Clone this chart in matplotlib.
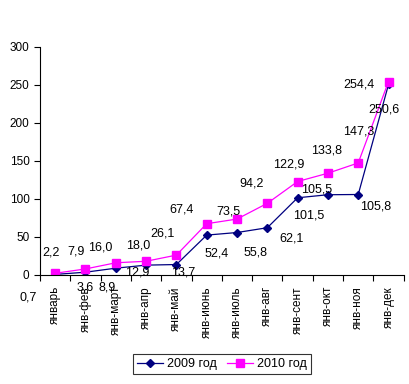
import matplotlib.pyplot as plt
import numpy as np

plt.rcParams["font.family"] = ["Liberation Sans", "DejaVu Sans"]

months = ["январь", "янв-фев", "янв-март", "янв-апр", "янв-май", "янв-июнь",
          "янв-июль", "янв-авг", "янв-сент", "янв-окт", "янв-ноя", "янв-дек"]
y2009 = [0.7, 3.6, 8.9, 12.9, 13.7, 52.4, 55.8, 62.1, 101.5, 105.5, 105.8, 250.6]
y2010 = [2.2, 7.9, 16.0, 18.0, 26.1, 67.4, 73.5, 94.2, 122.9, 133.8, 147.3, 254.4]

# смещения подписей в пикселях (как расставлены вручную в оригинале)
off2009 = [(-27, -23), (0, -15), (-9, -19), (-9, -7), (7, -8), (10, -18),
           (19, -20), (24, -11), (11, -18), (-11, 5), (17, -12), (-5, -25)]
off2010 = [(-4, 21), (-9, 17), (-16, 15), (-8, 16), (-14, 22), (-25, 14),
           (-9, 8), (-16, 20), (-9, 17), (-1, 23), (0, 31), (-30, -3)]

BLUE = "#000080"
PINK = "#FF00FF"

fig = plt.figure(figsize=(4.1, 3.84), dpi=100)
ax = fig.add_axes([0.0976, 0.284, 0.887, 0.594])

x = np.arange(len(months))
ax.plot(x, y2009, color=BLUE, lw=0.9, marker="D", ms=4.5, label="2009 год")
ax.plot(x, y2010, color=PINK, lw=0.9, marker="s", ms=5.5, label="2010 год")

for xi, v, (dx, dy) in zip(x, y2009, off2009):
    ax.annotate(f"{v:.1f}".replace(".", ","), (xi, v), xytext=(dx, dy),
                textcoords="offset pixels", ha="center", va="center", fontsize=9)
for xi, v, (dx, dy) in zip(x, y2010, off2010):
    ax.annotate(f"{v:.1f}".replace(".", ","), (xi, v), xytext=(dx, dy),
                textcoords="offset pixels", ha="center", va="center", fontsize=9)

ax.set_xlim(-0.5, 11.5)
ax.set_ylim(0, 300)
ax.set_yticks(range(0, 301, 50))
ax.set_xticks(x)
ax.set_xticklabels(months, rotation=90, fontsize=8.5)
ax.set_xticks(np.arange(-0.5, 12, 1), minor=True)
ax.tick_params(axis="x", which="major", length=0, pad=8)
ax.tick_params(axis="x", which="minor", length=4, direction="out", width=0.8)
ax.tick_params(axis="y", length=4, direction="out", width=0.8, labelsize=8.5)
ax.spines["top"].set_visible(False)
ax.spines["right"].set_visible(False)
for s in ("left", "bottom"):
    ax.spines[s].set_linewidth(0.8)

leg = fig.legend(loc="center", bbox_to_anchor=(222 / 410, 1 - 364 / 384), ncol=2,
                 fontsize=9, frameon=True, fancybox=False, edgecolor="black",
                 handlelength=2.1, handletextpad=0.3, columnspacing=0.8,
                 borderpad=0.35)
leg.get_frame().set_linewidth(0.8)

fig.savefig("out.png", dpi=100)
